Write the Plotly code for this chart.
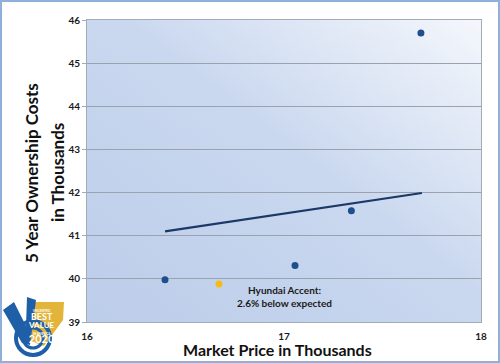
import base64
import plotly.graph_objects as go

# ---- data ----
price_x = [16.396, 17.056, 17.342, 17.695]
cost_y = [39.98, 40.31, 41.58, 45.70]
hyundai_x = [16.67]
hyundai_y = [39.88]
trend_x = [16.396, 17.70]
trend_y = [41.10, 41.99]
x_ticks = [16, 17, 18]
y_ticks = [39, 40, 41, 42, 43, 44, 45, 46]
note_text = "Hyundai Accent:<br>2.6% below expected"
note_x, note_y = 17.0, 39.6
x_title = "Market Price in Thousands"
y_title_lines = ["5 Year Ownership Costs", "in Thousands"]

W, H = 500, 363
L, R, T, B = 87, 19, 20, 41
PW, PH = W - L - R, H - T - B


def px(x):
    return (x - L) / PW


def py(y):
    return (H - B - y) / PH


FONT = "Lato"

fig = go.Figure()
fig.add_trace(go.Scatter(x=trend_x, y=trend_y, mode="lines",
                         line=dict(color="#1b3866", width=2.2), hoverinfo="skip"))
fig.add_trace(go.Scatter(x=price_x, y=cost_y, mode="markers",
                         marker=dict(color="#1f4e8f", size=7)))
fig.add_trace(go.Scatter(x=hyundai_x, y=hyundai_y, mode="markers",
                         marker=dict(color="#f6bb14", size=7)))

# gradient background for plot area
svg = """<svg xmlns='http://www.w3.org/2000/svg' width='400' height='300' preserveAspectRatio='none'>
<defs><linearGradient id='g' x1='0' y1='1' x2='1' y2='0'>
<stop offset='0' stop-color='#bccdea'/>
<stop offset='0.55' stop-color='#cad8ef'/>
<stop offset='1' stop-color='#f4f7fc'/>
</linearGradient></defs>
<rect width='400' height='300' fill='url(#g)'/></svg>"""
src = "data:image/svg+xml;base64," + base64.b64encode(svg.encode()).decode()

shapes = []
# outer border
shapes.append(dict(type="rect", xref="paper", yref="paper",
                   x0=px(1), x1=px(W - 1), y0=py(H - 1), y1=py(1),
                   line=dict(color="#8fb0db", width=2), layer="below"))


def poly(pts):
    s = "M " + " L ".join("{:.4f},{:.4f}".format(px(a), py(b)) for a, b in pts) + " Z"
    return s


# logo: gold shield
shapes.append(dict(type="path", xref="paper", yref="paper",
                   path=poly([(28, 305), (36, 302), (64, 302), (63, 320), (44, 346), (28, 340)]),
                   fillcolor="#e3b43a", line=dict(width=0), layer="above"))
# circles
for r, w in [(17, 4), (10, 3)]:
    shapes.append(dict(type="circle", xref="paper", yref="paper",
                       x0=px(33 - r), x1=px(33 + r), y0=py(338 + r), y1=py(338 - r),
                       line=dict(color="#1f5fa8", width=w), layer="above"))
# check mark
shapes.append(dict(type="path", xref="paper", yref="paper",
                   path=poly([(3, 310), (14, 302), (26, 326), (27, 297), (36, 300), (30, 345), (22, 343)]),
                   fillcolor="#1f5fa8", line=dict(width=0), layer="above"))

logo_text = ("<span style='font-size:3px'>VINCENTRIC</span><br>"
             "<span style='font-size:9px'>BEST</span><br>"
             "<span style='font-size:8px'>VALUE</span><br>"
             "<span style='font-size:3px'>IN AMERICA</span><br>"
             "<span style='font-size:11px'>2020</span>")

title_font = dict(family=FONT, size=17, color="#111", weight="bold")
annotations = [
    dict(x=note_x, y=note_y, xref="x", yref="y", text=note_text, showarrow=False,
         font=dict(family=FONT, size=10, color="#1a1a1a", weight="bold"), align="center"),
    dict(x=px(41), y=py(327), xref="paper", yref="paper", text=logo_text, showarrow=False,
         xanchor="center", yanchor="middle",
         font=dict(family=FONT, size=6, color="white", weight="bold"), align="center",
         borderpad=0),
    dict(x=px(277), y=py(349.5), xref="paper", yref="paper", text=x_title, showarrow=False,
         xanchor="center", yanchor="middle", borderpad=0, font=dict(title_font, size=16)),
    dict(x=px(31), y=py(173), xref="paper", yref="paper", text=y_title_lines[0], showarrow=False,
         xanchor="center", yanchor="middle", textangle=-90, font=title_font),
    dict(x=px(57), y=py(173), xref="paper", yref="paper", text=y_title_lines[1], showarrow=False,
         xanchor="center", yanchor="middle", textangle=-90, font=title_font),
]

fig.update_layout(
    template="none",
    width=W, height=H,
    margin=dict(l=L, r=R, t=T, b=B, pad=0),
    paper_bgcolor="white",
    plot_bgcolor="rgba(0,0,0,0)",
    showlegend=False,
    images=[dict(source=src, xref="paper", yref="paper", x=0, y=1, sizex=1, sizey=1,
                 sizing="stretch", layer="below", xanchor="left", yanchor="top")],
    shapes=shapes,
    annotations=annotations,
    font=dict(family=FONT),
    xaxis=dict(range=[16, 18], tickvals=x_ticks, showgrid=False, zeroline=False, automargin=False,
               showline=True, linecolor="#a3acb6", linewidth=1, mirror=True,
               ticks="outside", ticklen=5, tickcolor="rgba(0,0,0,0)",
               tickfont=dict(family=FONT, size=10, color="#1a1a1a", weight="bold")),
    yaxis=dict(range=[39, 46], tickvals=y_ticks, showgrid=True, gridcolor="#9aa3ad",
               gridwidth=1, zeroline=False, automargin=False,
               showline=True, linecolor="#a3acb6", linewidth=1, mirror=True,
               ticks="outside", ticklen=4, tickcolor="#a3acb6",
               tickfont=dict(family=FONT, size=10, color="#1a1a1a", weight="bold")),
)

fig.write_html("out.html", config={"displayModeBar": False},
               post_script="document.body.style.margin='0';")
